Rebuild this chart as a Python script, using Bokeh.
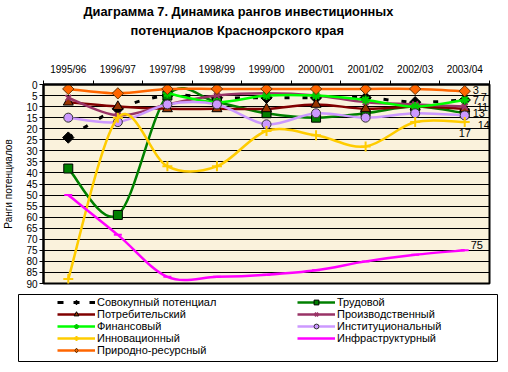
import numpy as np
from bokeh.plotting import figure
from bokeh.models import Range1d, FixedTicker, Title, Legend, LegendItem, ColumnDataSource
from bokeh.embed import file_html
from bokeh.resources import INLINE
from bokeh.core.properties import value

# ---------------- data ----------------
periods = ["1995/96", "1996/97", "1997/98", "1998/99", "1999/00",
           "2000/01", "2001/02", "2002/03", "2003/04"]
sovokupny = [24, 11, 5, 6, 6, 6, 6, 8, 7]
trudovoy = [38, 59, 5, 8, 13, 15, 13, 10, 13]
potrebit = [8, 10, 11, 11, 11, 9, 11, 10, 11]
proizvod = [6, 14, 9, 5, 4, 5, 8, 9, 10]
finans = [None, None, 4, 8, 5, 5, 7, 10, 7]
institut = [15, 17, 9, 9, 18, 13, 15, 13, 14]
innovac = [88, 15, 37, 37, 21, 23, 28, 17, 17]
infrastr = [50, 68, 87, 87, 86, 84, 80, 77, 75]
prirodno = [2, 4, 2, 2, 2, 2, 2, 2, 3]
y_ticks = list(range(0, 91, 5))

title_line1 = "Диаграмма 7. Динамика рангов инвестиционных"
title_line2 = "потенциалов Красноярского края"
y_title = "Ранги потенциалов"

FONT = "Liberation Sans"
BG = "#FAF2DC"
D = np.pi / 4

# style of each series
series = [
    dict(name="Совокупный потенциал", y=sovokupny, color="#000000", lw=3, dash="5 13", lgdash="6 10",
         marker="square", angle=D, size=8, lmarker="diamond", lsize=10, fill="#000000", mline="#000000",
         lab=dict(dx=8, dy=0)),
    dict(name="Трудовой", y=trudovoy, color="#008000", lw=2.5, dash="solid", lgdash="solid",
         marker="square", angle=0, size=9, lmarker="square", lsize=8, fill="#008000", mline="#000000",
         lab=dict(dx=8, dy=0)),
    dict(name="Потребительский", y=potrebit, color="#800000", lw=2.5, dash="solid", lgdash="solid",
         marker="triangle", angle=0, size=10, lmarker="triangle", lsize=9, fill="#993300", mline="#000000",
         lab=dict(dx=12, dy=-2)),
    dict(name="Производственный", y=proizvod, color="#993366", lw=2.5, dash="solid", lgdash="solid",
         marker="x", angle=0, size=8, lmarker="x", lsize=7, fill="#993366", mline="#993366", lab=None),
    dict(name="Финансовый", y=finans, color="#00FF00", lw=2.5, dash="solid", lgdash="solid",
         marker="asterisk", angle=0, size=9, lmarker="asterisk", lsize=8, fill="#00FF00", mline="#00CC00",
         lab=dict(dx=16, dy=-3)),
    dict(name="Институциональный", y=institut, color="#CC99FF", lw=2.5, dash="solid", lgdash="solid",
         marker="circle", angle=0, size=9, lmarker="circle", lsize=7, fill="#CC99FF", mline="#333333",
         lab=dict(dx=13, dy=10)),
    dict(name="Инновационный", y=innovac, color="#FFCC00", lw=2.5, dash="solid", lgdash="solid",
         marker="cross", angle=0, size=10, lmarker="cross", lsize=8, fill="#FFCC00", mline="#FFCC00",
         lab=dict(dx=-6, dy=11)),
    dict(name="Инфраструктурный", y=infrastr, color="#FF00FF", lw=2.5, dash="solid", lgdash="solid",
         marker="dash", angle=0, size=8, lmarker=None, lsize=0, fill="#FF00FF", mline="#FF00FF",
         lab=dict(dx=6, dy=-5)),
    dict(name="Природно-ресурсный", y=prirodno, color="#FF6600", lw=2.5, dash="solid", lgdash="solid",
         marker="square", angle=D, size=8, lmarker="diamond", lsize=10, fill="#FF6600", mline="#663300",
         lab=dict(dx=8, dy=-1.5)),
]

x_idx = [i + 0.5 for i in range(len(periods))]


def smooth_segments(xs, ys):
    pts = [(x, y) for x, y in zip(xs, ys) if y is not None]
    n = len(pts)
    out = dict(x0=[], y0=[], x1=[], y1=[], cx0=[], cy0=[], cx1=[], cy1=[])
    for i in range(n - 1):
        p0 = pts[max(i - 1, 0)]
        p1 = pts[i]
        p2 = pts[i + 1]
        p3 = pts[min(i + 2, n - 1)]
        out["x0"].append(p1[0]); out["y0"].append(p1[1])
        out["x1"].append(p2[0]); out["y1"].append(p2[1])
        out["cx0"].append(p1[0] + (p2[0] - p0[0]) / 6)
        out["cy0"].append(p1[1] + (p2[1] - p0[1]) / 6)
        out["cx1"].append(p2[0] - (p3[0] - p1[0]) / 6)
        out["cy1"].append(p2[1] - (p3[1] - p1[1]) / 6)
    return out


# ---------------- main chart ----------------
p = figure(width=508, height=290, output_backend="svg", toolbar_location=None,
           x_range=Range1d(0, 9), y_range=Range1d(90, 0), x_axis_location="above",
           min_border_left=38, min_border_right=19, min_border_top=84, min_border_bottom=7,
           background_fill_color=BG, border_fill_color="white",
           outline_line_color="black", outline_line_width=2)
p.title_location = None
p.xgrid.visible = False
p.ygrid.ticker = FixedTicker(ticks=y_ticks)
p.ygrid.grid_line_color = "black"
p.ygrid.grid_line_width = 1

xa = p.xaxis[0]
xa.ticker = FixedTicker(ticks=x_idx, minor_ticks=list(range(len(periods) + 1)))
xa.major_label_overrides = {x: lab for x, lab in zip(x_idx, periods)}
xa.major_tick_out = 0
xa.major_tick_in = 0
xa.minor_tick_out = 4
xa.minor_tick_in = 0
xa.minor_tick_line_color = "black"
xa.axis_line_width = 2
xa.axis_line_color = "black"
xa.major_label_text_font = FONT
xa.major_label_text_font_size = "10px"
xa.major_label_text_color = "black"
xa.major_label_standoff = 6
xa.axis_label = " "
xa.axis_label_text_font_size = "1px"
xa.axis_label_standoff = 18

ya = p.yaxis[0]
ya.ticker = FixedTicker(ticks=y_ticks)
ya.minor_tick_out = 0
ya.minor_tick_in = 0
ya.major_tick_out = 4
ya.major_tick_in = 0
ya.major_tick_line_color = "black"
ya.axis_line_width = 2
ya.axis_line_color = "black"
ya.major_label_text_font = FONT
ya.major_label_text_font_size = "10px"
ya.major_label_text_color = "black"
ya.major_label_standoff = 2
ya.axis_label = y_title
ya.axis_label_text_font = FONT
ya.axis_label_text_font_size = "10px"
ya.axis_label_text_font_style = "normal"
ya.axis_label_text_color = "black"
ya.axis_label_standoff = 9

p.add_layout(Title(text=title_line2, align="left", offset=87, standoff=2,
                   text_font=FONT, text_font_size="12.8px", text_font_style="bold",
                   text_color="black"), "above")
p.add_layout(Title(text=title_line1, align="left", offset=40, standoff=2,
                   text_font=FONT, text_font_size="12.8px", text_font_style="bold",
                   text_color="black"), "above")

lab_x, lab_y, lab_t, lab_dx, lab_dy = [], [], [], [], []
for s in series:
    seg = smooth_segments(x_idx, s["y"])
    p.bezier(source=ColumnDataSource(seg), x0="x0", y0="y0", x1="x1", y1="y1",
             cx0="cx0", cy0="cy0", cx1="cx1", cy1="cy1",
             line_color=s["color"], line_width=s["lw"], line_dash=s["dash"])
    mx = [x for x, y in zip(x_idx, s["y"]) if y is not None]
    my = [y for y in s["y"] if y is not None]
    lw = 2 if s["marker"] in ("x", "cross", "dash", "asterisk") else 1
    p.scatter(mx, my, marker=s["marker"], size=s["size"], angle=s["angle"],
              fill_color=s["fill"], line_color=s["mline"], line_width=lw)
    if s["lab"] is not None:
        lab_x.append(x_idx[-1]); lab_y.append(s["y"][-1]); lab_t.append(str(s["y"][-1]))
        lab_dx.append(s["lab"]["dx"]); lab_dy.append(s["lab"]["dy"])

p.text(source=ColumnDataSource(dict(x=lab_x, y=lab_y, t=lab_t, dx=lab_dx, dy=lab_dy)),
       x="x", y="y", text="t", x_offset="dx", y_offset="dy",
       text_font=value(FONT), text_font_size="11px", text_color="black",
       text_align="left", text_baseline="middle")

# ---------------- legend box (separate root below the chart) ----------------
lg = figure(width=508, height=82, output_backend="svg", toolbar_location=None,
            x_range=Range1d(0, 1), y_range=Range1d(0, 1),
            x_axis_location=None, y_axis_location=None,
            min_border_left=18, min_border_right=11, min_border_top=4, min_border_bottom=11,
            background_fill_color="white", border_fill_color="white",
            outline_line_color="black", outline_line_width=1)
lg.title_location = None
lg.grid.visible = False

OFF = [-100]  # dummy legend glyphs kept outside the visible ranges


def legend_item(s):
    rs = [lg.line(x=OFF, y=OFF, line_color=s["color"], line_width=s["lw"], line_dash=s["lgdash"])]
    if s["lmarker"] is not None:
        lw = 2 if s["lmarker"] in ("x", "cross", "asterisk") else 1
        rs.append(lg.scatter(x=OFF, y=OFF, marker=s["lmarker"], size=s["lsize"],
                             fill_color=s["fill"], line_color=s["mline"], line_width=lw))
    return LegendItem(label=s["name"], renderers=rs)


col1 = [series[i] for i in (0, 2, 4, 6, 8)]
col2 = [series[i] for i in (1, 3, 5, 7)]
common = dict(orientation="vertical", border_line_color=None, background_fill_alpha=0,
              padding=0, margin=0, spacing=0, glyph_width=38, glyph_height=12, label_height=12,
              label_standoff=2, label_text_font=FONT, label_text_font_size="11px",
              label_text_color="black")
leg1 = Legend(items=[legend_item(s) for s in col1], location=(39, 5), **common)
leg2 = Legend(items=[legend_item(s) for s in col2], location=(279, 17), **common)
lg.add_layout(leg1)
lg.add_layout(leg2)

open("out.html", "w", encoding="utf-8").write(file_html((p, lg), INLINE))
